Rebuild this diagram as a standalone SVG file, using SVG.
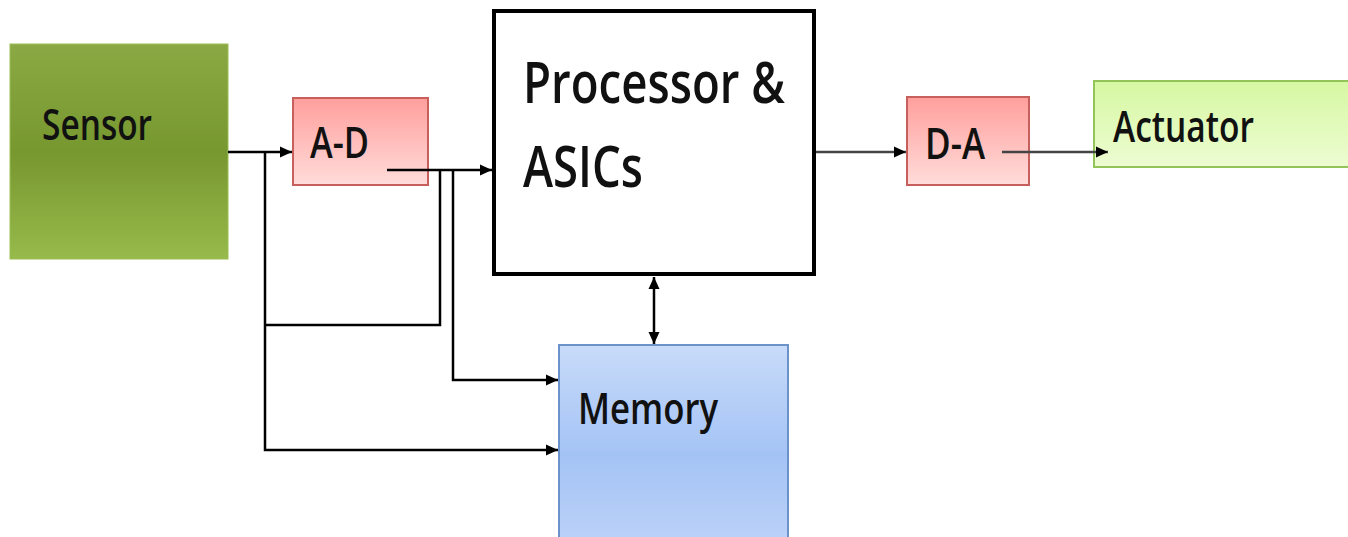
<svg xmlns="http://www.w3.org/2000/svg" width="1348" height="537" viewBox="0 0 1348 537">
<defs>
<linearGradient id="gSensor" x1="0" y1="0" x2="0" y2="1">
<stop offset="0" stop-color="#8aa944"/><stop offset="0.5" stop-color="#77972f"/><stop offset="1" stop-color="#97ba4b"/>
</linearGradient>
<linearGradient id="gPink" x1="0" y1="0" x2="0" y2="1">
<stop offset="0" stop-color="#ff9f9c"/><stop offset="1" stop-color="#ffdcda"/>
</linearGradient>
<linearGradient id="gAct" x1="0" y1="0" x2="0" y2="1">
<stop offset="0" stop-color="#d6f8a2"/><stop offset="1" stop-color="#edfcd2"/>
</linearGradient>
<linearGradient id="gMem" x1="0" y1="0" x2="0" y2="1">
<stop offset="0" stop-color="#c8dbf9"/><stop offset="0.55" stop-color="#a4c3f5"/><stop offset="1" stop-color="#bcd2f8"/>
</linearGradient>
<marker id="arr" markerUnits="userSpaceOnUse" markerWidth="12" markerHeight="12" viewBox="0 0 12 12" refX="12" refY="6" orient="auto-start-reverse">
<path d="M0,0.5 L12,6 L0,11.5 z" fill="#000"/>
</marker>
</defs>
<style>
text{font-family:"Open Sans","Liberation Sans",Arial,sans-serif;font-weight:600;fill:#111;}
.lbl{font-size:44px;}
.big{font-size:58px;}
.conn{fill:none;stroke:#000;stroke-width:2.5;}
.gray{stroke:#444;}
</style>
<g id="sensor">
<rect x="10" y="44" width="218" height="215" fill="url(#gSensor)" stroke="#9bbd55" stroke-width="1"/>
<text class="lbl" x="42" y="140" textLength="110" lengthAdjust="spacingAndGlyphs">Sensor</text>
</g>
<g id="ad">
<rect x="293" y="98" width="135" height="87" fill="url(#gPink)" stroke="#c7605d" stroke-width="2"/>
<text class="lbl" x="310" y="158" textLength="59" lengthAdjust="spacingAndGlyphs">A-D</text>
</g>
<g id="processor">
<rect x="494" y="11" width="320" height="263" fill="#fff" stroke="#000" stroke-width="4"/>
<text class="big" x="523" y="103" textLength="262" lengthAdjust="spacingAndGlyphs">Processor &amp;</text>
<text class="big" x="523" y="187" textLength="120" lengthAdjust="spacingAndGlyphs">ASICs</text>
</g>
<g id="da">
<rect x="907" y="97" width="122" height="88" fill="url(#gPink)" stroke="#c7605d" stroke-width="2"/>
<text class="lbl" x="925" y="159" textLength="60" lengthAdjust="spacingAndGlyphs">D-A</text>
</g>
<g id="actuator">
<rect x="1094" y="81" width="260" height="86" fill="url(#gAct)" stroke="#93c45a" stroke-width="2"/>
<text class="lbl" x="1113" y="142" textLength="141" lengthAdjust="spacingAndGlyphs">Actuator</text>
</g>
<g id="memory">
<rect x="559" y="345" width="229" height="200" fill="url(#gMem)" stroke="#6b93c9" stroke-width="2"/>
<text class="lbl" x="578" y="424" textLength="140" lengthAdjust="spacingAndGlyphs">Memory</text>
</g>
<g id="connectors">
<path class="conn" d="M228,152 L292,152" marker-end="url(#arr)"/>
<path class="conn" d="M265,152 L265,450 L558,450" marker-end="url(#arr)"/>
<path class="conn" d="M265,325 L440,325 L440,170"/>
<path class="conn" d="M387,170 L492,170" marker-end="url(#arr)"/>
<path class="conn" d="M453,170 L453,380 L558,380" marker-end="url(#arr)"/>
<path class="conn gray" d="M816,152 L906,152" marker-end="url(#arr)"/>
<path class="conn gray" d="M1002,152 L1108,152" marker-end="url(#arr)"/>
<path class="conn" d="M654,277 L654,344" marker-start="url(#arr)" marker-end="url(#arr)"/>
</g>
</svg>
